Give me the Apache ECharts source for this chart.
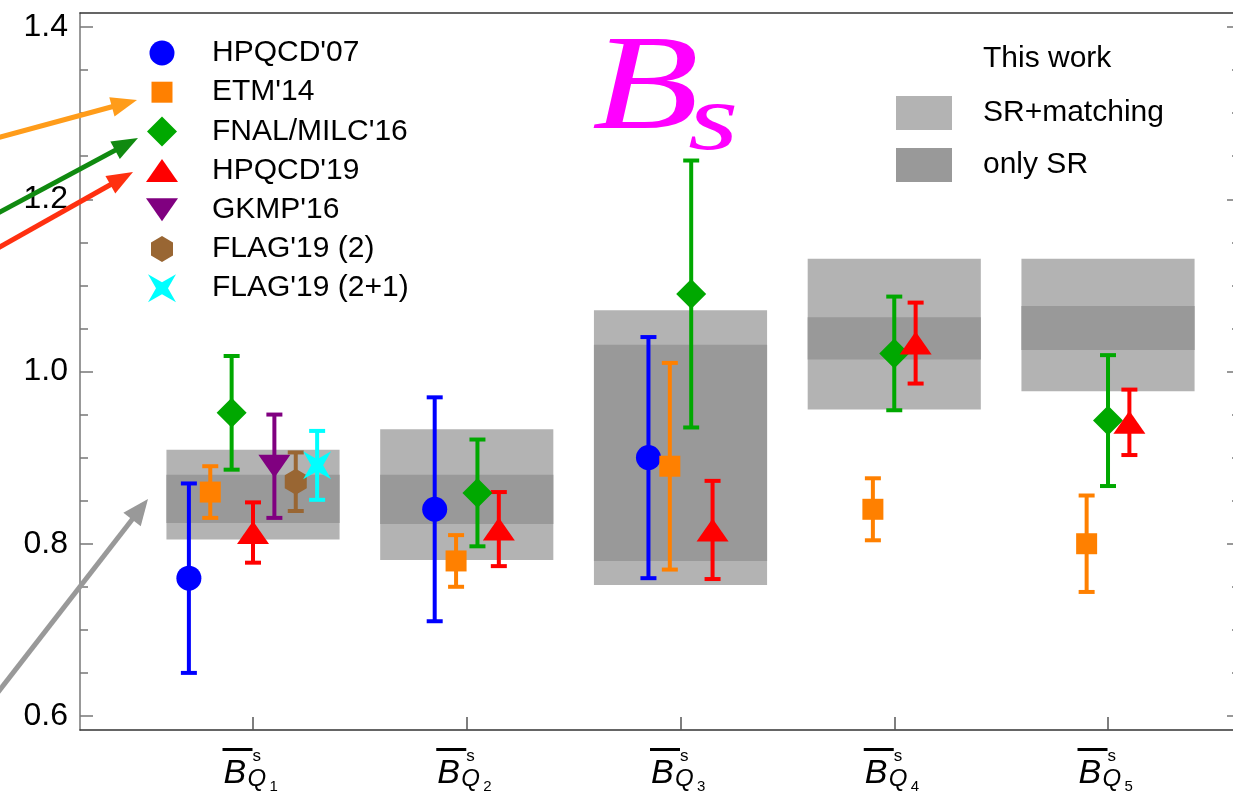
<!DOCTYPE html>
<html><head><meta charset="utf-8">
<script src="https://cdn.jsdelivr.net/npm/echarts@6/dist/echarts.min.js"></script>
<style>html,body{margin:0;padding:0;background:#fff}#c{width:1233px;height:792px}</style>
</head><body><div id="c"></div>
<script>
// ---------------- data ----------------
const categories = ['Q1', 'Q2', 'Q3', 'Q4', 'Q5'];
const categorySub = ['1', '2', '3', '4', '5'];
const yMajorTicks = [0.6, 0.8, 1.0, 1.2, 1.4];
const yMinorTicks = [0.65, 0.7, 0.75, 0.85, 0.9, 0.95, 1.05, 1.1, 1.15, 1.25, 1.3, 1.35];

const seriesNames = ["HPQCD'07", "ETM'14", "FNAL/MILC'16", "HPQCD'19", "GKMP'16", "FLAG'19 (2)", "FLAG'19 (2+1)"];
const hpqcd07     = [0.760, 0.840, 0.900, null, null];
const hpqcd07Err  = [0.110, 0.130, 0.140, null, null];
const etm14       = [0.860, 0.780, 0.890, 0.840, 0.800];
const etm14Err    = [0.030, 0.030, 0.120, 0.036, 0.056];
const fnal16      = [0.952, 0.859, 1.090, 1.021, 0.943];
const fnal16Err   = [0.066, 0.062, 0.155, 0.066, 0.076];
const hpqcd19     = [0.813, 0.817, 0.816, 1.033, 0.941];
const hpqcd19Err  = [0.035, 0.043, 0.057, 0.047, 0.038];
const gkmp16      = [0.890, null, null, null, null];
const gkmp16Err   = [0.060, null, null, null, null];
const flag19n2    = [0.872, null, null, null, null];
const flag19n2Err = [0.034, null, null, null, null];
const flag19n3    = [0.891, null, null, null, null];
const flag19n3Err = [0.040, null, null, null, null];

const bandNames = ['SR+matching', 'only SR'];
const srMatchingLow  = [0.805, 0.781, 0.752, 0.956, 0.977];
const srMatchingHigh = [0.909, 0.933, 1.071, 1.131, 1.131];
const onlySrLow      = [0.824, 0.823, 0.780, 1.014, 1.025];
const onlySrHigh     = [0.880, 0.880, 1.031, 1.063, 1.076];

// ---------------- styles ----------------
const FONT = '"Liberation Sans", Arial, sans-serif';
const PAD = 'M-15,-15M15,15';
const SYM = {
  circle: 'path://' + PAD + 'M-12.5,0A12.5,12.5 0 1 0 12.5,0A12.5,12.5 0 1 0 -12.5,0Z',
  square: 'path://' + PAD + 'M-10.5,-10.5L10.5,-10.5L10.5,10.5L-10.5,10.5Z',
  diamond: 'path://' + PAD + 'M0,-15L15,0L0,15L-15,0Z',
  tri: 'path://M-16,-15M16,15M0,-11.5L16,11.5L-16,11.5Z',
  triDown: 'path://M-16,-15M16,15M-16,-11.5L16,-11.5L0,11.5Z',
  hex: 'path://' + PAD + 'M0,-13L11,-6.5L11,6.5L0,13L-11,6.5L-11,-6.5Z',
  star: 'path://' + PAD + 'M-14,-14L0,-6L14,-14L6,0L14,14L0,6L-14,14L-6,0Z'
};
const groups = [
  {v: hpqcd07, e: hpqcd07Err, color: '#0000ff', sym: SYM.circle, size: [30, 30]},
  {v: etm14, e: etm14Err, color: '#ff8000', sym: SYM.square, size: [30, 30]},
  {v: fnal16, e: fnal16Err, color: '#00a800', sym: SYM.diamond, size: [30, 30]},
  {v: hpqcd19, e: hpqcd19Err, color: '#ff0000', sym: SYM.tri, size: [32, 30]},
  {v: gkmp16, e: gkmp16Err, color: '#800080', sym: SYM.triDown, size: [32, 30]},
  {v: flag19n2, e: flag19n2Err, color: '#996633', sym: SYM.hex, size: [30, 30]},
  {v: flag19n3, e: flag19n3Err, color: '#00ffff', sym: SYM.star, size: [30, 30]}
];
groups.forEach((g, i) => g.name = seriesNames[i]);

// dodge positions within each category
const DODGE = 0.1;
const xPos = groups.map(() => []);
categories.forEach((c, i) => {
  const present = groups.map((g, gi) => g.v[i] != null ? gi : -1).filter(k => k >= 0);
  present.forEach((gi, k) => { xPos[gi][i] = i + 1 + (k - (present.length - 1) / 2) * DODGE; });
});

const X_MIN = 0.1906, X_MAX = 5.6175, Y_MIN = 0.5837, Y_MAX = 1.4163;
const BOX_HALF = 0.405;

const series = [];
// bands
[[srMatchingLow, srMatchingHigh, '#b3b3b3'], [onlySrLow, onlySrHigh, '#999999']].forEach((b, bi) => {
  series.push({
    type: 'custom', name: bandNames[bi], z: 1 + bi, clip: false,
    itemStyle: {color: b[2]},
    encode: {x: 0, y: [1, 2]},
    data: categories.map((c, i) => [i + 1, b[0][i], b[1][i]]),
    renderItem: (params, api) => {
      const x = api.value(0);
      const p1 = api.coord([x - BOX_HALF, api.value(2)]);
      const p2 = api.coord([x + BOX_HALF, api.value(1)]);
      return {type: 'rect', shape: {x: p1[0], y: p1[1], width: p2[0] - p1[0], height: p2[1] - p1[1]},
        style: {fill: b[2]}};
    }
  });
});
// error bars and markers
groups.forEach((g, gi) => {
  const pts = [];
  categories.forEach((c, i) => { if (g.v[i] != null) pts.push([xPos[gi][i], g.v[i], g.e[i]]); });
  series.push({
    type: 'custom', name: g.name + ' err', z: 5, clip: false, silent: true,
    encode: {x: 0, y: 1},
    data: pts,
    renderItem: (params, api) => {
      const x = api.value(0), v = api.value(1), e = api.value(2);
      const t = api.coord([x, v + e]), b = api.coord([x, v - e]);
      const hw = 8, st = {stroke: g.color, lineWidth: 4};
      return {type: 'group', children: [
        {type: 'line', shape: {x1: t[0], y1: t[1], x2: b[0], y2: b[1]}, style: st},
        {type: 'line', shape: {x1: t[0] - hw, y1: t[1], x2: t[0] + hw, y2: t[1]}, style: st},
        {type: 'line', shape: {x1: b[0] - hw, y1: b[1], x2: b[0] + hw, y2: b[1]}, style: st}
      ]};
    }
  });
  series.push({
    type: 'scatter', name: g.name, z: 6, clip: false,
    symbol: g.sym, symbolSize: g.size,
    itemStyle: {color: g.color, opacity: 1},
    data: pts.map(p => [p[0], p[1]])
  });
});

// ---------------- annotation arrows & texts ----------------
function arrow(x1, y1, x2, y2, color, w, hl, hw) {
  const dx = x2 - x1, dy = y2 - y1, L = Math.hypot(dx, dy), ux = dx / L, uy = dy / L;
  const bx = x2 - ux * hl, by = y2 - uy * hl, px = -uy, py = ux;
  return [
    {type: 'line', shape: {x1, y1, x2: bx + ux * 3, y2: by + uy * 3}, style: {stroke: color, lineWidth: w}, z: 50},
    {type: 'polygon', shape: {points: [[x2, y2], [bx + px * hw / 2, by + py * hw / 2], [bx - px * hw / 2, by - py * hw / 2]]}, style: {fill: color}, z: 50}
  ];
}
const graphics = [].concat(
  arrow(-5, 138.4, 137, 100, '#ff9c1a', 5, 26, 20),
  arrow(-5, 214.7, 138, 138, '#108a10', 5, 26, 20),
  arrow(-5, 249.8, 133, 172, '#ff3010', 5, 26, 20),
  arrow(-5, 696, 148, 499, '#999999', 5, 26, 22),
  [
    {type: 'text', x: 592, y: 92, scaleX: 1.25, scaleY: 0.97, z: 60, style: {text: 'B', font: 'italic 140px "Liberation Serif", serif', fill: '#ff00ff', align: 'left', verticalAlign: 'middle', textAlign: 'left', textVerticalAlign: 'middle'}},
    {type: 'text', x: 688, y: 124, scaleX: 1.35, z: 60, style: {text: 's', font: 'italic 96px "Liberation Serif", serif', fill: '#ff00ff', align: 'left', verticalAlign: 'middle', textAlign: 'left', textVerticalAlign: 'middle'}},
    {type: 'text', x: 983, y: 59, z: 60, style: {text: 'This work', font: '30px ' + FONT, fill: '#000', align: 'left', verticalAlign: 'middle', textAlign: 'left', textVerticalAlign: 'middle'}}
  ]
);

// ---------------- axes ----------------
const xRich = {
  bar: {width: 30, height: 3, lineHeight: 3, backgroundColor: '#000', align: 'left', verticalAlign: 'top', fontSize: 1},
  sup: {width: 31, fontSize: 17, lineHeight: 8.2, align: 'left', verticalAlign: 'top', fontFamily: FONT, color: '#000'},
  lead: {width: 1, fontSize: 1, lineHeight: 1, align: 'left'},
  B: {width: 24, fontSize: 34, fontStyle: 'italic', lineHeight: 28, align: 'left', verticalAlign: 'top', fontFamily: FONT, color: '#000'},
  Q: {width: 22, fontSize: 24, fontStyle: 'italic', lineHeight: 23, padding: [11.3, 0, 0, 0], align: 'left', verticalAlign: 'top', fontFamily: FONT, color: '#000'},
  n: {width: 14, fontSize: 15, lineHeight: 14, padding: [23.6, 0, 0, 0], align: 'left', verticalAlign: 'top', fontFamily: FONT, color: '#000'}
};
const catTicks = categories.map((c, i) => i + 1);
function yAxis(pos, vals, len, showLine, showLabel) {
  return {
    type: 'value', position: pos, min: Y_MIN, max: Y_MAX,
    axisLine: {show: showLine, lineStyle: {color: '#777', width: 1.5}},
    axisTick: {show: true, inside: true, length: len, customValues: vals, lineStyle: {color: '#777', width: 1.5}},
    axisLabel: showLabel ? {show: true, customValues: vals, formatter: v => v.toFixed(1), fontSize: 32, fontFamily: FONT, color: '#000', margin: 12} : {show: false},
    splitLine: {show: false}
  };
}

const option = {
  animation: false,
  backgroundColor: '#fff',
  grid: {left: 80, top: 13, width: 1160, height: 717, outerBoundsMode: 'none', containLabel: false},
  xAxis: [
    {
      type: 'value', position: 'bottom', min: X_MIN, max: X_MAX,
      axisLine: {show: true, lineStyle: {color: '#333', width: 1.5}},
      axisTick: {show: true, inside: true, length: 13, customValues: catTicks, lineStyle: {color: '#555', width: 1.5}},
      axisLabel: {
        show: true, customValues: catTicks, margin: 18, color: '#000', fontFamily: FONT,
        formatter: v => {
          const i = Math.round(v) - 1;
          return '{bar| }{sup|s}\n{lead| }{B|B}{Q|' + categories[i].charAt(0) + '}{n|' + categorySub[i] + '}';
        },
        rich: xRich
      },
      splitLine: {show: false}
    },
    {
      type: 'value', position: 'top', min: X_MIN, max: X_MAX,
      axisLine: {show: true, lineStyle: {color: '#333', width: 1.5}},
      axisTick: {show: false}, axisLabel: {show: false}, splitLine: {show: false}
    }
  ],
  yAxis: [
    yAxis('left', yMajorTicks, 13, true, true),
    yAxis('left', yMinorTicks, 8, false, false),
    yAxis('right', yMajorTicks, 13, true, false),
    yAxis('right', yMinorTicks, 8, false, false)
  ],
  legend: [
    {
      orient: 'vertical', left: 146, top: 38, padding: 0,
      itemWidth: 90, itemHeight: 30, itemGap: 9.2,
      textStyle: {fontSize: 30, lineHeight: 30, fontFamily: FONT, color: '#000'},
      data: groups.map(g => ({name: g.name, icon: g.sym})),
      selectedMode: false
    },
    {
      orient: 'vertical', left: 896, top: 96, padding: 0,
      itemWidth: 56, itemHeight: 34, itemGap: 18,
      formatter: name => '{sp| }' + name,
      textStyle: {fontSize: 30, lineHeight: 34, fontFamily: FONT, color: '#000', rich: {sp: {width: 26, fontSize: 1}}},
      data: bandNames.map(n => ({name: n, icon: 'rect'})),
      selectedMode: false
    }
  ],
  graphic: graphics,
  series: series
};

const chart = echarts.init(document.getElementById('c'), null, {renderer: 'canvas'});
chart.setOption(option);
</script>
</body></html>
